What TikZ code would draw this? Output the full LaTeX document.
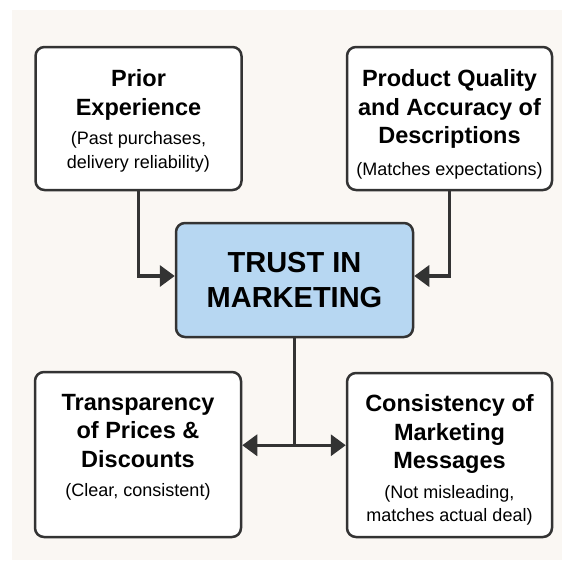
\documentclass[tikz,border=0pt]{standalone}
\usepackage{fontspec}
\setmainfont{Liberation Sans}
\usetikzlibrary{positioning,arrows.meta}
\definecolor{PanelBg}{HTML}{FAF7F3}
\definecolor{LineGray}{HTML}{333333}
\definecolor{TrustBlue}{HTML}{B7D7F2}

\begin{document}
\begin{tikzpicture}[x=1pt, y=-1pt,
    Card/.style={draw=LineGray, line width=2.5pt, rounded corners=9pt, fill=white},
    Title/.style={inner sep=0pt, align=center,
        font=\bfseries\fontsize{23.5}{28.5}\selectfont},
    Note/.style={inner sep=0pt, align=center,
        font=\fontsize{18}{23.5}\selectfont},
    Link/.style={draw=LineGray, line width=3.5pt},
    >={Triangle[length=15pt,width=21pt]}
]
    % Background
    \useasboundingbox (0,0) rectangle (562,560);
    \fill[white] (0,0) rectangle (562,560);
    \fill[PanelBg] (12,10) rectangle (562,560);

    % Top row
    \node [Card,
        minimum width=206pt,
        minimum height=143pt
    ]  (Prior) at (138.5,118.5) {};
    \node [Title,
        anchor=north,
        below=24pt of Prior.north
    ]  (PriorTitle) {Prior\\Experience};
    \node [Note,
        anchor=north,
        below=86pt of Prior.north
    ]  (PriorNote) {(Past purchases,\\delivery reliability)};

    \node [Card,
        minimum width=205pt,
        minimum height=143pt
    ]  (Quality) at (449.5,118.5) {};
    \node [Title,
        anchor=north,
        below=24pt of Quality.north
    ]  (QualityTitle) {Product Quality\\and Accuracy of\\Descriptions};
    \node [Note,
        anchor=north,
        below=117pt of Quality.north
    ]  (QualityNote) {(Matches expectations)};

    % Centre
    \node [Card,
        fill=TrustBlue,
        minimum width=237pt,
        minimum height=114pt,
        align=center,
        font=\bfseries\fontsize{29}{35}\selectfont
    ]  (Trust) at (294.5,280) {TRUST IN\\MARKETING};

    % Bottom row
    \node [Card,
        minimum width=206pt,
        minimum height=165pt
    ]  (Prices) at (138,454.5) {};
    \node [Title,
        anchor=north,
        below=23pt of Prices.north
    ]  (PricesTitle) {Transparency\\of Prices \&\\Discounts};
    \node [Note,
        anchor=north,
        below=112pt of Prices.north
    ]  (PricesNote) {(Clear, consistent)};

    \node [Card,
        minimum width=205pt,
        minimum height=164pt
    ]  (Messages) at (449.5,455) {};
    \node [Title,
        anchor=north,
        below=23pt of Messages.north
    ]  (MessagesTitle) {Consistency of\\Marketing\\Messages};
    \node [Note,
        anchor=north,
        below=113pt of Messages.north
    ]  (MessagesNote) {(Not misleading,\\matches actual deal)};

    % Links
    \draw[Link,->] (Prior.south) |- ([yshift=4pt]Trust.west);
    \draw[Link,->] (Quality.south) |- ([yshift=4pt]Trust.east);
    \coordinate[below=107pt of Trust.south] (Split);
    \draw[Link] (Trust.south) -- (Split);
    \draw[Link,<->] (Split -| Prices.east) -- (Split -| Messages.west);

\end{tikzpicture}
\end{document}
